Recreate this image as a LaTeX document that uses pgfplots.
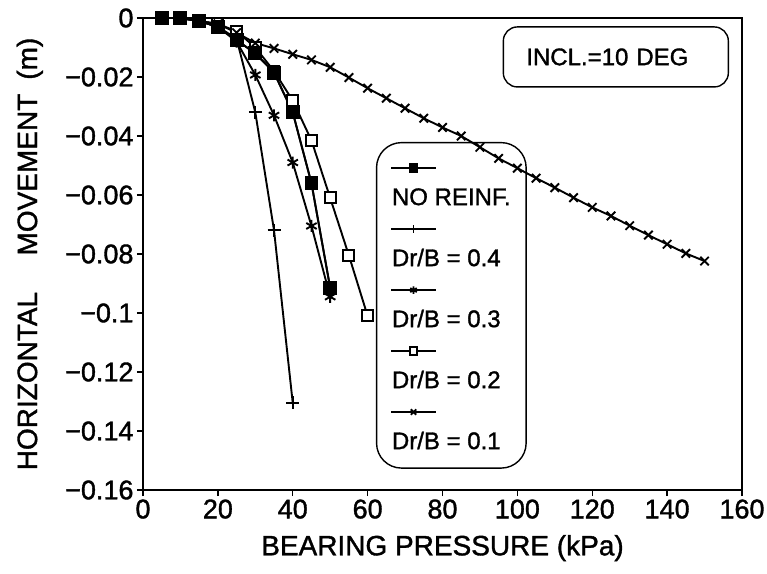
\documentclass[border=0pt]{standalone}
\usepackage{fontspec}
\setmainfont{Liberation Sans}[UprightFeatures={FakeBold=1.3}]
\usepackage{pgfplots}
\pgfplotsset{compat=1.18}

\pgfplotstableread{
x y
5 0
10 0
15 -0.001
20 -0.003
25 -0.0075
30 -0.012
35 -0.0185
40 -0.032
45 -0.056
50 -0.0915
}\noreinf

\begin{document}
\begin{tikzpicture}
\useasboundingbox (-143bp,-84bp) rectangle (624bp,490bp);
\begin{axis}[
  scale only axis, width=599bp, height=472bp,
  at={(0,0)}, anchor=south west,
  xmin=0, xmax=160, ymin=-0.16, ymax=0,
  clip=false,
  xtick={0,20,40,60,80,100,120,140,160},
  xticklabels={0,20,40,60,80,100,120,140,160},
  ytick={-0.16,-0.14,-0.12,-0.1,-0.08,-0.06,-0.04,-0.02,0},
  yticklabels={−0.16,−0.14,−0.12,−0.1,−0.08,−0.06,−0.04,−0.02,0},
  tick align=outside, xtick pos=bottom, ytick pos=left,
  major tick length=6bp,
  axis line style={line width=1.8bp},
  every tick/.style={black, line width=1.4bp},
  ticklabel style={font=\fontsize{27bp}{32bp}\selectfont},
  label style={font=\fontsize{28bp}{34bp}\selectfont},
  xlabel={BEARING PRESSURE (kPa)},
  ylabel={HORIZONTAL\hspace{1.3em}MOVEMENT\hspace{0.5em}(m)},
  xlabel style={at={(axis description cs:0.5,-0.123)}, anchor=center},
  ylabel style={at={(axis description cs:-0.189,0.5)}, anchor=center},
  every axis plot/.append style={line width=1.9bp, black},
  legend image code/.code={\draw[mark repeat=2, mark phase=2, sharp corners, #1, mark size=3.8bp] plot coordinates {(0bp,0bp) (22.5bp,0bp) (45bp,0bp)};},
  legend cell align=left,
  legend style={at={(axis cs:62.2,-0.0420)}, anchor=north west, draw=black, line width=1.4bp,
    rounded corners=25bp, fill=none, inner xsep=13.5bp, inner ysep=12bp, row sep=3.5bp,
    font=\fontsize{24bp}{28bp}\selectfont,
    nodes={inner sep=2bp, text height=18bp, text depth=5bp}, cells={anchor=west}},
]
% NO REINF.
\addplot[mark=square*, mark size=6bp, mark options={fill=black, solid}] table {\noreinf};
\addlegendentry{}
\addlegendimage{empty legend}
\addlegendentry{\hspace*{-47bp}NO REINF.}
% Dr/B = 0.4
\addplot[mark=+, mark size=6.5bp] coordinates {
 (5,0) (10,0) (15,-0.001) (20,-0.003) (25,-0.007) (30,-0.032) (35,-0.072) (40,-0.1305)};
\addlegendentry{}
\addlegendimage{empty legend}
\addlegendentry{\hspace*{-47bp}Dr/B = 0.4}
% Dr/B = 0.3
\addplot[mark=asterisk, mark size=6bp] coordinates {
 (5,0) (10,0) (15,-0.001) (20,-0.003) (25,-0.008) (30,-0.0193) (35,-0.033) (40,-0.049) (45,-0.0705) (50,-0.0945)};
\addlegendentry{}
\addlegendimage{empty legend}
\addlegendentry{\hspace*{-47bp}Dr/B = 0.3}
% Dr/B = 0.2
\addplot[mark=square*, mark size=5.5bp, mark options={fill=white, solid}] coordinates {
 (5,0) (10,0) (15,-0.001) (20,-0.002) (25,-0.0045) (30,-0.010) (35,-0.018) (40,-0.028) (45,-0.0415) (50,-0.061) (55,-0.0805) (60,-0.101)};
\addlegendentry{}
\addlegendimage{empty legend}
\addlegendentry{\hspace*{-47bp}Dr/B = 0.2}
% Dr/B = 0.1
\addplot[mark=x, mark size=6bp] coordinates {
 (5,0) (10,0) (15,-0.001) (20,-0.002) (25,-0.005) (30,-0.0085) (35,-0.0103) (40,-0.0123) (45,-0.0142) (50,-0.0167)
 (55,-0.0202) (60,-0.0238) (65,-0.0272) (70,-0.0306) (75,-0.034) (80,-0.0371) (85,-0.040) (90,-0.0438) (95,-0.0476) (100,-0.0509)
 (105,-0.0543) (110,-0.0575) (115,-0.0609) (120,-0.0642) (125,-0.0671) (130,-0.0704) (135,-0.0736) (140,-0.0767) (145,-0.0798) (150,-0.0824)};
\addlegendentry{}
\addlegendimage{empty legend}
\addlegendentry{\hspace*{-47bp}Dr/B = 0.1}
% NO REINF. drawn again on top, as in the reference
\addplot[forget plot, mark=square*, mark size=6bp, mark options={fill=black, solid}] table {\noreinf};
\node[draw, line width=1.4bp, rounded corners=14bp, minimum height=60bp, inner xsep=23bp,
  text width=179bp, align=left,
  font=\fontsize{24bp}{28bp}\selectfont] at (axis cs:126.3,-0.0132) {INCL.=10 DEG};
\end{axis}
\end{tikzpicture}
\end{document}
